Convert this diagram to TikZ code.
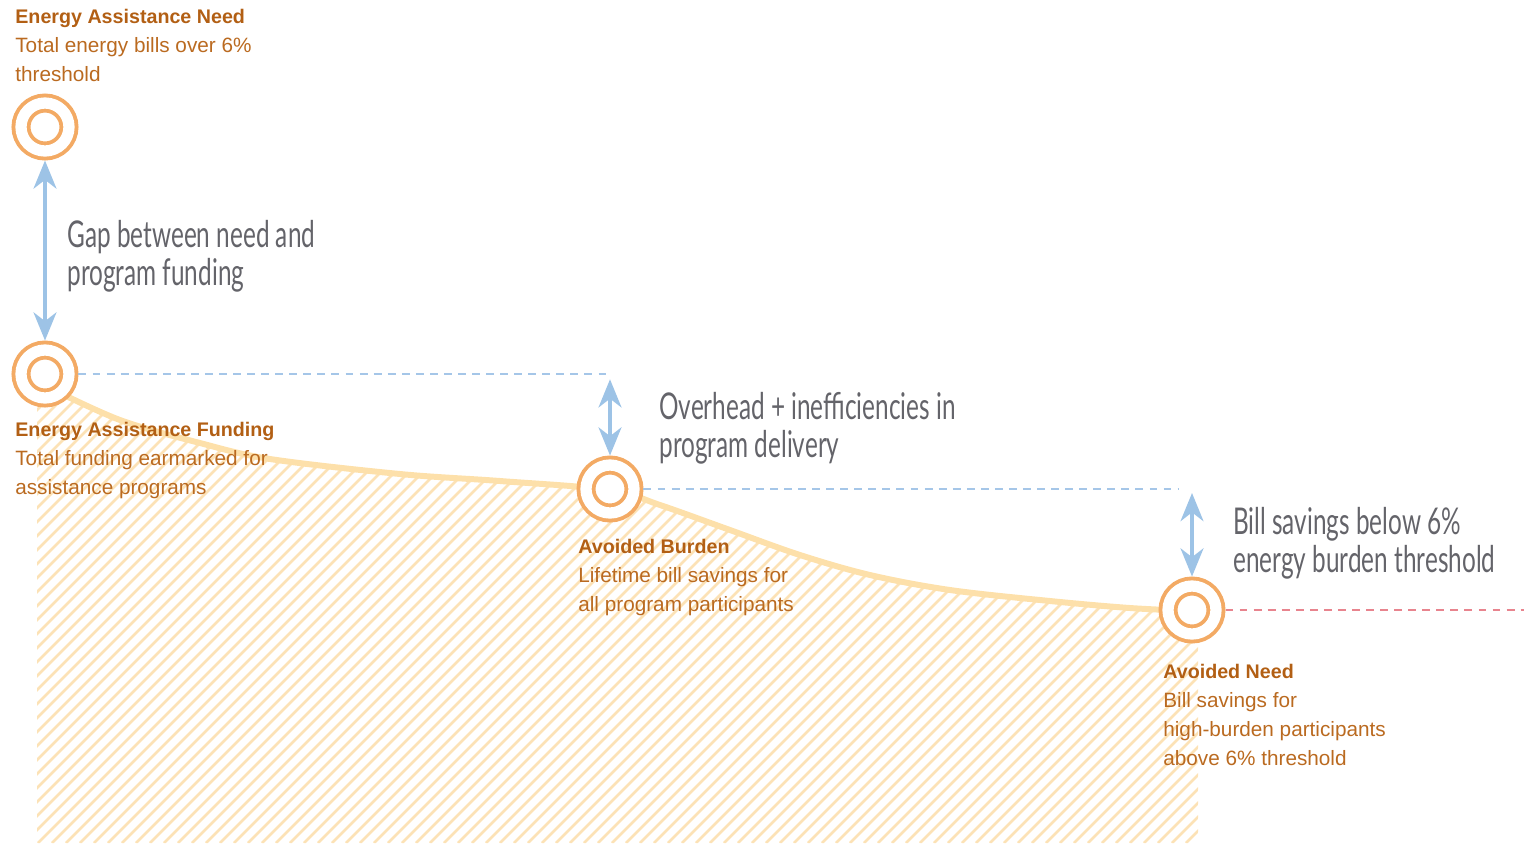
\documentclass[tikz,border=0pt]{standalone}
\usepackage{fontspec}
\setmainfont{Liberation Sans}
\newfontfamily\condfont[FakeStretch=0.66]{Lato}
\usepackage{tikz}
\usetikzlibrary{arrows.meta, positioning}

\definecolor{ringorange}{RGB}{243,170,100}
\definecolor{titleorange}{RGB}{178,95,20}
\definecolor{bodyorange}{RGB}{186,106,32}
\definecolor{arrowblue}{RGB}{157,195,230}
\definecolor{dashblue}{RGB}{165,198,232}
\definecolor{dashred}{RGB}{232,132,142}
\definecolor{notegray}{RGB}{100,100,106}
\definecolor{curveyellow}{RGB}{253,224,170}
\definecolor{hatchyellow}{RGB}{252,226,182}

\newcommand{\headline}[1]{\textbf{\fontsize{11.2}{16.5}\selectfont\color{titleorange}#1}}

\begin{document}
\begin{tikzpicture}[
    x=0.02cm, y=-0.02cm,
    ring/.style={
        circle, minimum size=0.96cm, inner sep=0pt, outer sep=5.4pt,
        draw=ringorange, line width=2.2pt,
        double=white, double distance=6.4pt, fill=white
    },
    label/.style={
        anchor=north west, inner sep=0pt, align=left,
        font=\fontsize{11.8}{16.5}\selectfont, text=bodyorange
    },
    note/.style={
        anchor=north west, inner sep=0pt, align=left,
        font=\condfont\fontsize{21}{21.6}\selectfont, text=notegray
    },
    gap/.style={
        {Stealth[length=16pt, width=13pt, inset=5pt]}-{Stealth[length=16pt, width=13pt, inset=5pt]},
        line width=2.3pt, color=arrowblue
    },
    level/.style={dashed, dash pattern=on 4.5pt off 3.5pt, line width=0.8pt},
    hatch/.style={line width=1.5pt, color=hatchyellow}
]
\useasboundingbox (0,0) rectangle (1524,843);

% hatched area under the savings curve
\begin{scope}
\clip (37,843) -- (37,396) -- (50,388)
    -- plot[smooth, tension=0.55] coordinates {(50,388) (120,420) (200,443) (270,459) (400,474)
        (500,481) (610,490) (660,505) (730,530) (800,555) (870,575) (950,590)
        (1050,601) (1130,608) (1198,612)}
    -- (1198,843) -- cycle;
\foreach \i in {-900,-886,...,1200}
    \draw [hatch] (\i,843) -- ++(900,-900);
\end{scope}
\draw [curveyellow, line width=3.4pt, line cap=round]
    plot[smooth, tension=0.55] coordinates {(50,388) (120,420) (200,443) (270,459) (400,474)
        (500,481) (610,490) (660,505) (730,530) (800,555) (870,575) (950,590)
        (1050,601) (1130,608) (1192,611)};

\node (need) [ring] at (45,127) {};
\node (funding) [ring] at (45,374) {};
\node (burden) [ring] at (610,489) {};
\node (avoided) [ring] at (1192,610) {};

\coordinate (fundinglevel) at (610,374);
\coordinate (burdenlevel) at (1178,489);
\coordinate (burdentop) at (1192,493);
\coordinate (threshold) at (1524,610);

\node (needlabel) [label] at (15,9) {\headline{Energy Assistance Need}\\Total energy bills over 6\%\\threshold};
\node (fundinglabel) [label] at (15,422) {\headline{Energy Assistance Funding}\\Total funding earmarked for\\assistance programs};
\node (burdenlabel) [label] at (578,539) {\headline{Avoided Burden}\\Lifetime bill savings for\\all program participants};
\node (avoidedlabel) [label] at (1163,664) {\headline{Avoided Need}\\Bill savings for\\high-burden participants\\above 6\% threshold};

\node (gapnote) [note] at (67,220) {Gap between need and\\program funding};
\node (overheadnote) [note] at (659,392) {Overhead + inefficiencies in\\program delivery};
\node (savingsnote) [note] at (1233,507) {Bill savings below 6\%\\energy burden threshold};

\draw [level, dashblue] (funding.east) -- (fundinglevel);
\draw [level, dashblue] (burden.east) -- (burdenlevel);
\draw [level, dashred] (avoided.east) -- (threshold);
\draw [gap] (need.south) -- (funding.north);
\draw [gap] ([yshift=-3pt]fundinglevel) -- (burden.north);
\draw [gap] (burdentop) -- (avoided.north);
\end{tikzpicture}
\end{document}
